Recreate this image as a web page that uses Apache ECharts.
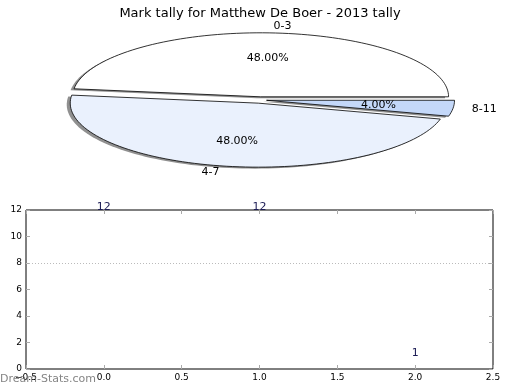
<!DOCTYPE html>
<html><head><meta charset="utf-8">
<script src="https://cdn.jsdelivr.net/npm/echarts@6/dist/echarts.min.js"></script>
<style>html,body{margin:0;padding:0;background:#fff}#c{width:520px;height:390px}</style>
</head><body><div id="c"></div>
<script>
var categories = ['0-3', '4-7', '8-11'];
var counts = [12, 12, 1];
var pieColors = ['#ffffff', '#eaf1fd', '#c4d8f9'];
var explode = [0.05, 0.05, 0.035];
var xTicks = [-0.5, 0, 0.5, 1.0, 1.5, 2.0, 2.5];
var yTicks = [0, 2, 4, 6, 8, 10, 12];

var FONT = 'DejaVu Sans';
var total = counts.reduce(function (a, b) { return a + b; }, 0);
var PIE = { cx: 260, cy: 100, rx: 188, ry: 64 };

function piePts(a0, a1, ox, oy) {
  var pts = [[PIE.cx + ox, PIE.cy + oy]];
  var n = Math.max(4, Math.ceil((a1 - a0) / 2));
  for (var i = 0; i <= n; i++) {
    var a = (a0 + (a1 - a0) * i / n) * Math.PI / 180;
    pts.push([PIE.cx + ox + PIE.rx * Math.cos(a), PIE.cy + oy - PIE.ry * Math.sin(a)]);
  }
  return pts;
}

function renderPie(params, api) {
  var idx = params.dataIndex;
  var start = 0;
  for (var i = 0; i < idx; i++) start += counts[i] / total * 360;
  var v = api.value(1);
  var frac = v / total;
  var end = start + frac * 360;
  var mid = (start + end) / 2 * Math.PI / 180;
  var c = Math.cos(mid), s = Math.sin(mid);
  var ex = explode[idx];
  var ox = ex * PIE.rx * c, oy = -ex * PIE.ry * s;
  var lx = PIE.cx + ox + 1.1 * PIE.rx * c, ly = PIE.cy + oy - 1.1 * PIE.ry * s;
  var px = PIE.cx + ox + 0.6 * PIE.rx * c, py = PIE.cy + oy - 0.6 * PIE.ry * s;
  return {
    type: 'group',
    children: [
      { type: 'polygon', shape: { points: piePts(start, end, ox - 3.5, oy + 1.5) },
        style: { fill: 'rgba(70,70,70,0.6)', stroke: null }, z2: 1 },
      { type: 'polygon', shape: { points: piePts(start, end, ox, oy) },
        style: { fill: pieColors[idx], stroke: '#000', lineWidth: 0.8 }, z2: 2 },
      { type: 'text', x: lx, y: ly, z2: 3,
        style: { text: categories[idx], fill: '#000',
          font: '11px "' + FONT + '"', align: c > 0 ? 'left' : 'right', verticalAlign: 'middle' } },
      { type: 'text', x: px, y: py, z2: 3,
        style: { text: (frac * 100).toFixed(2) + '%', fill: '#000',
          font: '11px "' + FONT + '"', align: 'center', verticalAlign: 'middle' } }
    ]
  };
}

var chart = echarts.init(document.getElementById('c'), null, { renderer: 'canvas' });
var pieData = categories.map(function (c, i) { return [i, counts[i]]; });
var barData = counts.map(function (v, i) { return [i, v]; });

var tickStyle = { show: true, inside: true, length: 4, lineStyle: { color: '#aaa' } };
var noLine = { show: false, onZero: false };

chart.setOption({
  animation: false,
  title: { text: 'Mark tally for Matthew De Boer - 2013 tally', left: 'center', top: 2,
    textStyle: { fontFamily: FONT, fontSize: 13, fontWeight: 'normal', color: '#000' } },
  graphic: [
    { type: 'text', left: 0, top: 374, z: 100,
      style: { text: 'Dream-Stats.com', fill: 'rgba(110,110,110,0.85)', font: '11px "' + FONT + '"' } }
  ],
  grid: { left: 26, right: 27, top: 210, bottom: 21, show: true, borderColor: '#000', borderWidth: 1, backgroundColor: 'transparent' },
  xAxis: [
    { type: 'value', min: -0.5, max: 2.5, interval: 0.5, position: 'bottom',
      axisLine: noLine, splitLine: { show: false }, axisTick: tickStyle,
      axisLabel: { fontFamily: FONT, fontSize: 9, color: '#000', margin: 4,
        formatter: function (v) { return (v < 0 ? '\u2212' : '') + Math.abs(v).toFixed(1); } } },
    { type: 'value', min: -0.5, max: 2.5, interval: 0.5, position: 'top',
      axisLine: noLine, splitLine: { show: false }, axisLabel: { show: false }, axisTick: tickStyle }
  ],
  yAxis: [
    { type: 'value', min: 0, max: 12, interval: 2, position: 'left',
      axisLine: noLine, splitLine: { show: false }, axisTick: tickStyle,
      axisLabel: { fontFamily: FONT, fontSize: 9, color: '#000', margin: 4 } },
    { type: 'value', min: 0, max: 12, interval: 2, position: 'right',
      axisLine: noLine, splitLine: { show: false }, axisLabel: { show: false }, axisTick: tickStyle }
  ],
  series: [
    { type: 'custom', coordinateSystem: 'none', renderItem: renderPie, data: pieData, z: 5 },
    { type: 'bar', xAxisIndex: 0, yAxisIndex: 0, data: barData, barWidth: 20,
      itemStyle: { color: 'rgba(0,0,0,0)' },
      label: { show: true, position: 'top', distance: -3, color: '#1c1c55',
        fontFamily: FONT, fontSize: 11 },
      markLine: { silent: true, symbol: 'none', label: { show: false },
        lineStyle: { color: '#bbb', type: [1, 2], width: 1 },
        data: [{ yAxis: 8 }] } }
  ]
});
</script></body></html>
